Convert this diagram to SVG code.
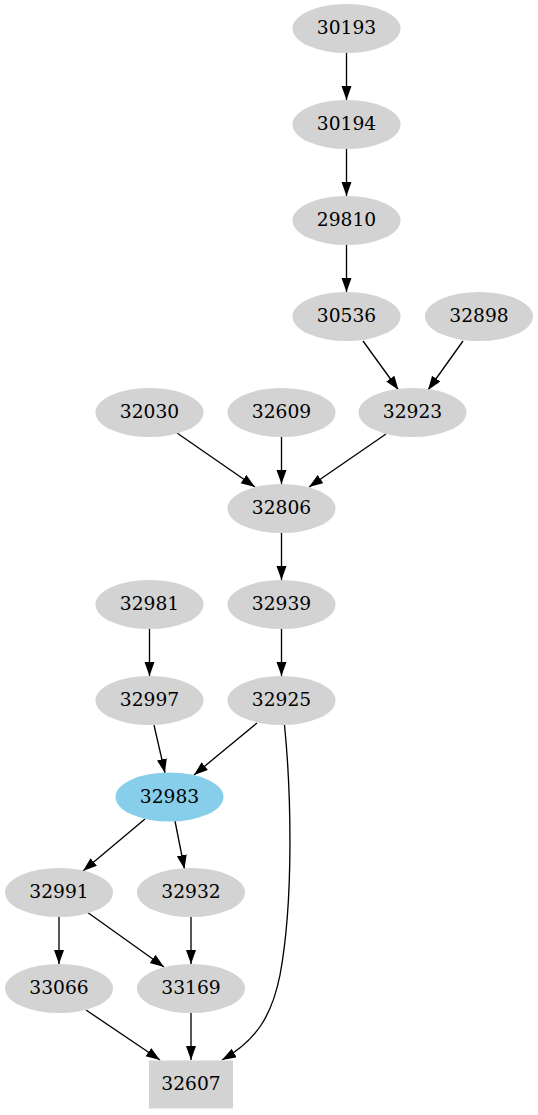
<svg xmlns="http://www.w3.org/2000/svg" width="538" height="1115" viewBox="0 0 538 1115">
<defs>
<style>
.n ellipse, .n rect { fill: #d3d3d3; stroke: none; }
.hl ellipse { fill: #87ceeb; }
.n text { font-family: "DejaVu Serif", "Liberation Serif", serif; font-size: 18.67px; fill: #000; text-anchor: middle; }
#edges line, #edges path { stroke: #000; stroke-width: 1.33; fill: none; marker-end: url(#arr); }
</style>
<marker id="arr" markerUnits="userSpaceOnUse" markerWidth="15" markerHeight="11" refX="14" refY="5" orient="auto">
<path d="M0,0 L14,5 L0,10 z" fill="#000"/>
</marker>
</defs>
<rect width="538" height="1115" fill="#fff"/>
<g id="edges">
<line x1="346.5" y1="53" x2="346.5" y2="100"/>
<line x1="346.5" y1="149" x2="346.5" y2="196"/>
<line x1="346.5" y1="245" x2="346.5" y2="292"/>
<line x1="363" y1="341" x2="398.5" y2="390"/>
<line x1="463" y1="341" x2="428" y2="390"/>
<line x1="177" y1="433" x2="255" y2="487"/>
<line x1="281.5" y1="437" x2="281.5" y2="484"/>
<line x1="386" y1="434" x2="309" y2="487"/>
<line x1="281.5" y1="533" x2="281.5" y2="580"/>
<line x1="149.5" y1="629" x2="149.5" y2="676"/>
<line x1="281.5" y1="629" x2="281.5" y2="676"/>
<line x1="154" y1="725" x2="165" y2="773"/>
<line x1="257" y1="723" x2="194" y2="775"/>
<line x1="145" y1="819" x2="83" y2="871"/>
<line x1="175" y1="821" x2="184.5" y2="869"/>
<line x1="59" y1="917" x2="59" y2="964"/>
<line x1="87" y1="912" x2="164" y2="967"/>
<line x1="191" y1="917" x2="191" y2="964"/>
<line x1="86" y1="1010" x2="160" y2="1060"/>
<line x1="191" y1="1013" x2="191" y2="1060"/>
<path d="M284.5,725 C291,790 294,900 280,975 C272,1015 257,1040 222,1060"/>
</g>
<g id="n30193" class="n"><ellipse cx="346.5" cy="28.5" rx="54" ry="24.5"/><text x="346.5" y="34.3">30193</text></g>
<g id="n30194" class="n"><ellipse cx="346.5" cy="124.5" rx="54" ry="24.5"/><text x="346.5" y="130.3">30194</text></g>
<g id="n29810" class="n"><ellipse cx="346.5" cy="220.5" rx="54" ry="24.5"/><text x="346.5" y="226.3">29810</text></g>
<g id="n30536" class="n"><ellipse cx="346.5" cy="316.5" rx="54" ry="24.5"/><text x="346.5" y="322.3">30536</text></g>
<g id="n32898" class="n"><ellipse cx="479" cy="316.5" rx="54" ry="24.5"/><text x="479" y="322.3">32898</text></g>
<g id="n32030" class="n"><ellipse cx="149.5" cy="412.5" rx="54" ry="24.5"/><text x="149.5" y="418.3">32030</text></g>
<g id="n32609" class="n"><ellipse cx="281.5" cy="412.5" rx="54" ry="24.5"/><text x="281.5" y="418.3">32609</text></g>
<g id="n32923" class="n"><ellipse cx="412.5" cy="412.5" rx="54" ry="24.5"/><text x="412.5" y="418.3">32923</text></g>
<g id="n32806" class="n"><ellipse cx="281.5" cy="508.5" rx="54" ry="24.5"/><text x="281.5" y="514.3">32806</text></g>
<g id="n32981" class="n"><ellipse cx="149.5" cy="604.5" rx="54" ry="24.5"/><text x="149.5" y="610.3">32981</text></g>
<g id="n32939" class="n"><ellipse cx="281.5" cy="604.5" rx="54" ry="24.5"/><text x="281.5" y="610.3">32939</text></g>
<g id="n32997" class="n"><ellipse cx="149.5" cy="700.5" rx="54" ry="24.5"/><text x="149.5" y="706.3">32997</text></g>
<g id="n32925" class="n"><ellipse cx="281.5" cy="700.5" rx="54" ry="24.5"/><text x="281.5" y="706.3">32925</text></g>
<g id="n32983" class="n hl"><ellipse cx="169.5" cy="797" rx="54" ry="24.5"/><text x="169.5" y="802.8">32983</text></g>
<g id="n32991" class="n"><ellipse cx="59" cy="892.5" rx="54" ry="24.5"/><text x="59" y="898.3">32991</text></g>
<g id="n32932" class="n"><ellipse cx="191" cy="892.5" rx="54" ry="24.5"/><text x="191" y="898.3">32932</text></g>
<g id="n33066" class="n"><ellipse cx="59" cy="988.5" rx="54" ry="24.5"/><text x="59" y="994.3">33066</text></g>
<g id="n33169" class="n"><ellipse cx="191" cy="988.5" rx="54" ry="24.5"/><text x="191" y="994.3">33169</text></g>
<g id="n32607" class="n"><rect x="149" y="1060.5" width="84" height="48"/><text x="191" y="1090.3">32607</text></g>
</svg>
